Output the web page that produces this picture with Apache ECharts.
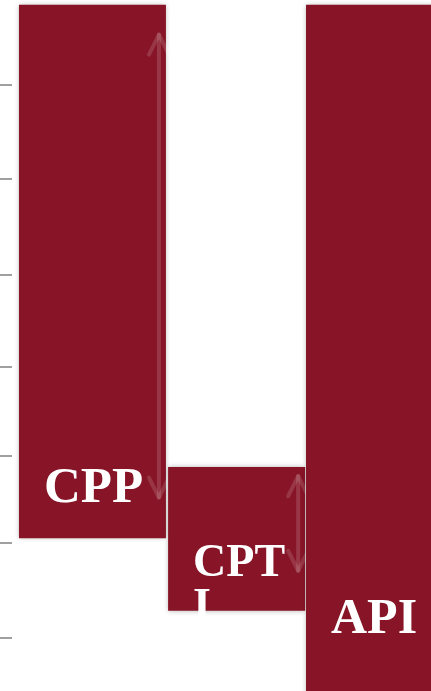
<!DOCTYPE html>
<html>
<head>
<meta charset="utf-8">
<style>
html, body { margin: 0; padding: 0; background: #fff; }
#main { width: 431px; height: 691px; }
</style>
<script src="https://cdn.jsdelivr.net/npm/echarts@6/dist/echarts.min.js"></script>
</head>
<body>
<div id="main"></div>
<script>
// bar data (x: share along the axis, y: level)
const labels = ['CPP', 'CPT\nI', 'API'];
const xStart = [4.4, 39.0, 71.0];
const xEnd = [38.5, 70.8, 101];
const yLow = [22.1, 11.6, -5];
const yHigh = [99.3, 32.4, 99.3];
const arrowTop = [95.0, 31.1, null];
const arrowBottom = [28.0, 17.4, null];
const labelLevel = [26.9, 16.5, 8.0];
const tickValues = [87.7, 74.2, 60.3, 46.9, 34.0, 21.4, 7.7];

const barColor = '#871527';
const fontSizes = [51, 46, 50];

function renderBar(params, api) {
    const i = params.dataIndex;
    const tl = api.coord([api.value(0), api.value(3)]);
    const br = api.coord([api.value(1), api.value(2)]);
    const children = [{
        type: 'rect',
        shape: { x: tl[0], y: tl[1], width: br[0] - tl[0], height: br[1] - tl[1] },
        style: {
            fill: barColor,
            shadowBlur: 5,
            shadowColor: 'rgba(0,0,0,0.3)'
        }
    }];
    const aTop = api.value(4);
    const aBot = api.value(5);
    if (!isNaN(aTop) && !isNaN(aBot)) {
        const ax = br[0] - 7;
        const y0 = api.coord([0, aTop])[1];
        const y1 = api.coord([0, aBot])[1];
        const arrowStyle = {
            stroke: 'rgba(255,255,255,0.14)',
            lineWidth: 4,
            lineCap: 'round',
            lineJoin: 'round',
            fill: null
        };
        children.push({
            type: 'polyline',
            shape: { points: [[ax, y0], [ax, y1]] },
            style: arrowStyle
        });
        children.push({
            type: 'polyline',
            shape: { points: [[ax - 10, y0 + 20], [ax, y0], [ax + 10, y0 + 20]] },
            style: arrowStyle
        });
        children.push({
            type: 'polyline',
            shape: { points: [[ax - 10, y1 - 20], [ax, y1], [ax + 10, y1 - 20]] },
            style: arrowStyle
        });
    }
    const fs = fontSizes[i];
    const ly = api.coord([0, api.value(6)])[1];
    children.push({
        type: 'text',
        style: {
            text: labels[i],
            x: tl[0] + 25,
            y: ly - fs * 0.76,
            fill: '#fff',
            font: 'bold ' + fs + 'px "Liberation Serif", serif',
            align: 'left',
            verticalAlign: 'top',
            lineHeight: 44
        }
    });
    return { type: 'group', children: children };
}

const chart = echarts.init(document.getElementById('main'));
chart.setOption({
    animation: false,
    grid: { left: 0, right: 0, top: 0, bottom: 0 },
    xAxis: { type: 'value', min: 0, max: 100, show: false },
    yAxis: {
        type: 'value',
        min: 0,
        max: 100,
        axisLine: { show: false },
        axisLabel: { show: false },
        splitLine: { show: false },
        axisTick: {
            show: true,
            inside: true,
            length: 12,
            customValues: tickValues,
            lineStyle: { color: '#a0a0a0', width: 2 }
        }
    },
    series: [{
        type: 'custom',
        clip: true,
        renderItem: renderBar,
        encode: { x: [0, 1], y: [2, 3] },
        data: labels.map((l, i) => [xStart[i], xEnd[i], yLow[i], yHigh[i],
            arrowTop[i] === null ? '-' : arrowTop[i],
            arrowBottom[i] === null ? '-' : arrowBottom[i],
            labelLevel[i]])
    }]
});
</script>
</body>
</html>
